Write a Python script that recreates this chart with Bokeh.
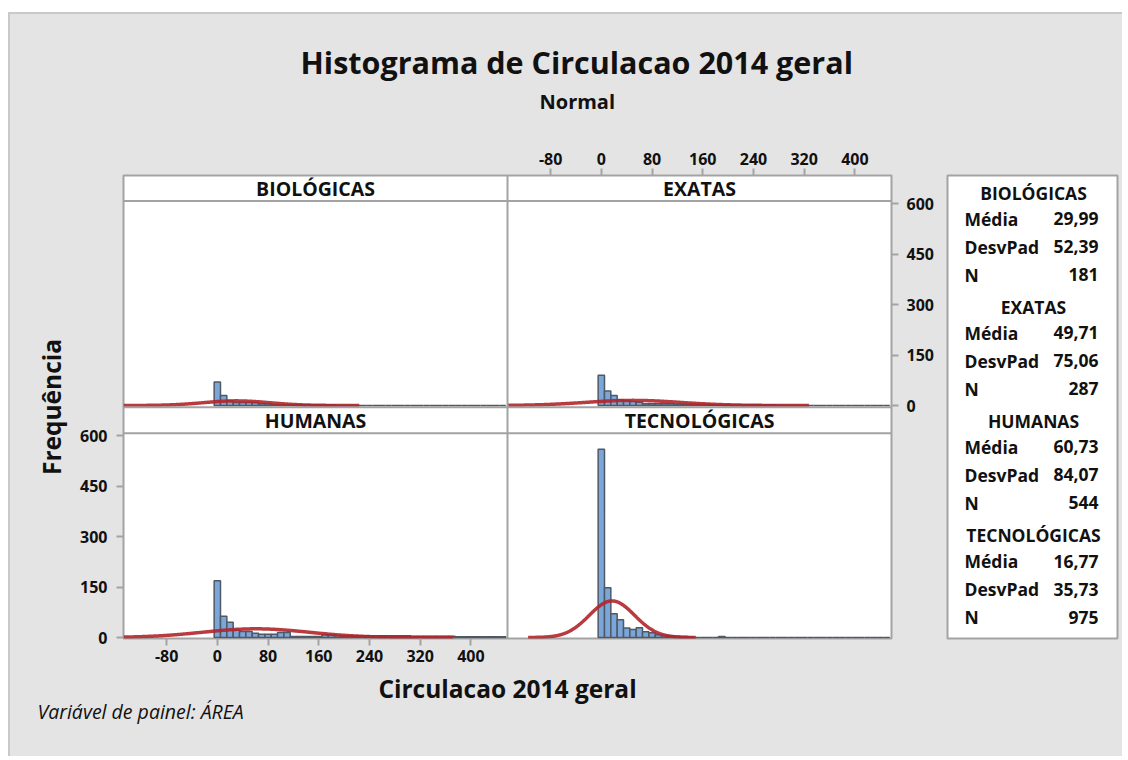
import numpy as np
from bokeh.plotting import figure
from bokeh.models import Range1d, LinearAxis, FixedTicker, Title, Span
from bokeh.layouts import row
from bokeh.core.properties import value
from bokeh.embed import file_html
from bokeh.resources import INLINE

# ---------------- data ----------------
PANELS = ["BIOLÓGICAS", "EXATAS", "HUMANAS", "TECNOLÓGICAS"]
MEDIA = [29.99, 49.71, 60.73, 16.77]
DESVPAD = [52.39, 75.06, 84.07, 35.73]
N_OBS = [181, 287, 544, 975]
BIN_WIDTH = 10
BIN_CENTERS = list(range(0, 460, BIN_WIDTH))

COUNTS_BIO = [70, 30, 15, 9, 9, 9, 9, 5, 5, 2, 2, 2, 2, 2, 2, 2, 2, 2, 2,
              0, 0, 0, 0, 0, 0, 0, 0, 0, 0, 0, 0, 0, 0, 0, 0, 0, 0, 0, 0, 0, 0, 0, 0, 0, 0, 0]
COUNTS_EXA = [90, 43, 30, 17, 15, 12, 10, 5, 5, 5, 5, 5, 4, 4, 4, 4, 4, 4,
              2, 2, 2, 2, 2, 2, 2, 2, 2, 2, 1,
              0, 0, 0, 0, 0, 0, 0, 0, 0, 0, 0, 0, 0, 0, 0, 0, 0]
COUNTS_HUM = [169, 63, 45, 22, 18, 18, 13, 10, 10, 10, 15, 15, 3, 3, 3, 3, 3, 8, 8,
              6, 5, 5, 5, 5, 5, 5, 5, 5, 5, 5, 5,
              4, 4, 4, 4, 4, 4, 4,
              2, 2, 2, 2, 2, 2, 2, 2]
COUNTS_TEC = [560, 148, 71, 53, 28, 24, 29, 17, 14, 8, 6, 5, 4, 3, 2, 0, 0, 0, 0, 3,
              0, 0, 0, 0, 0, 0, 0, 0, 0, 0, 0, 0, 0, 0, 0, 0, 0, 0, 0, 0, 0, 0, 0, 0, 0, 0]
COUNTS = [COUNTS_BIO, COUNTS_EXA, COUNTS_HUM, COUNTS_TEC]

X_TICKS = [-80, 0, 80, 160, 240, 320, 400]
X_TICK_LABELS = {t: str(t) for t in X_TICKS}
Y_TICKS = [0, 150, 300, 450, 600]

# ---------------- geometry ----------------
FONT = "Open Sans"
BG = "#e4e4e4"
LINE = "#a3a3a3"
TXT = "#111111"
FW, FH = 768, 463
PW = FW / 2
X0, X1 = -148.0, 457.7
PXU = PW / (X1 - X0)          # px per x unit
U = 2.975                      # y units per px

p = figure(frame_width=FW, frame_height=FH,
           min_border_left=113, min_border_right=50, min_border_top=161, min_border_bottom=118,
           x_range=Range1d(0, FW), y_range=Range1d(0, FH),
           x_axis_type=None, y_axis_type=None, title=None,
           toolbar_location=None, output_backend="svg")
p.background_fill_color = "white"
p.border_fill_color = BG
p.outline_line_color = LINE
p.outline_line_width = 2
p.grid.visible = False

p.extra_x_ranges = {
    "L": Range1d(X0, X0 + FW / PXU),
    "R": Range1d(X0 - PW / PXU, X1),
}
p.extra_y_ranges = {
    "B": Range1d(-1 * U, (FH - 1) * U),
    "T": Range1d(-233 * U, (FH - 233) * U),
}
PANEL_RANGES = [("L", "T"), ("R", "T"), ("L", "B"), ("R", "B")]

# panel dividers
for loc in [437.4, 231.3, 205.3]:
    p.add_layout(Span(location=loc, dimension="width", line_color=LINE, line_width=2))
p.add_layout(Span(location=PW, dimension="height", line_color=LINE, line_width=2))

# strip labels
p.text(x=[PW / 2, PW * 1.5, PW / 2, PW * 1.5], y=[450.2, 450.2, 218.3, 218.3], text=PANELS,
       text_align="center", text_baseline="middle", text_font=value(FONT),
       text_font_size="19.5px", text_font_style="bold", text_color=TXT)

edges = np.array(BIN_CENTERS, dtype=float)
for i, (xr, yr) in enumerate(PANEL_RANGES):
    p.quad(left=edges - BIN_WIDTH / 2, right=edges + BIN_WIDTH / 2, bottom=0, top=COUNTS[i],
           x_range_name=xr, y_range_name=yr,
           fill_color="#7ba6da", line_color="#4f5966", line_width=1.5)
    m, s, n = MEDIA[i], DESVPAD[i], N_OBS[i]
    lo, hi = max(m - 3.7 * s, X0), min(m + 3.7 * s, X1)
    xs = np.linspace(lo, hi, 400)
    ys = n * BIN_WIDTH * np.exp(-0.5 * ((xs - m) / s) ** 2) / (s * np.sqrt(2 * np.pi))
    p.line(xs, ys, x_range_name=xr, y_range_name=yr, line_color="#b0262b", line_width=3.5, line_alpha=0.9)


def style_axis(ax):
    ax.axis_line_color = None
    ax.major_tick_line_color = LINE
    ax.major_tick_line_width = 2
    ax.major_tick_out = 7
    ax.major_tick_in = 0
    ax.minor_tick_line_color = None
    ax.major_label_text_font = FONT
    ax.major_label_text_font_size = "16px"
    ax.major_label_text_font_style = "bold"
    ax.major_label_text_color = TXT
    ax.axis_label_text_font = FONT
    ax.axis_label_text_font_size = "24.5px"
    ax.axis_label_text_font_style = "bold"
    ax.axis_label_text_color = TXT


ax_b = LinearAxis(x_range_name="L", ticker=FixedTicker(ticks=X_TICKS), axis_label="Circulacao 2014 geral")
style_axis(ax_b)
ax_b.major_label_overrides = X_TICK_LABELS
ax_b.major_label_standoff = 4
ax_b.axis_label_standoff = 7
p.add_layout(ax_b, "below")

ax_t = LinearAxis(x_range_name="R", ticker=FixedTicker(ticks=X_TICKS))
style_axis(ax_t)
ax_t.major_label_overrides = X_TICK_LABELS
ax_t.major_label_standoff = 4
p.add_layout(ax_t, "above")

ax_l = LinearAxis(y_range_name="B", ticker=FixedTicker(ticks=Y_TICKS), axis_label="Frequência")
style_axis(ax_l)
ax_l.major_label_standoff = 9
ax_l.axis_label_standoff = 9
p.add_layout(ax_l, "left")

ax_r = LinearAxis(y_range_name="T", ticker=FixedTicker(ticks=Y_TICKS))
style_axis(ax_r)
ax_r.major_label_standoff = 8
p.add_layout(ax_r, "right")

# spacer between the top axis and the subtitle
p.add_layout(Title(text=" ", align="left", text_font=FONT, text_font_size="1px", standoff=28.6), "above")
p.add_layout(Title(text="Normal", align="left", offset=416, text_font=FONT,
                   text_font_size="20px", text_font_style="bold", text_color=TXT,
                   standoff=6), "above")
p.add_layout(Title(text="Histograma de Circulacao 2014 geral", align="left", offset=177,
                   text_font=FONT, text_font_size="30.5px", text_font_style="bold",
                   text_color=TXT, standoff=0), "above")
p.add_layout(Title(text="Variável de painel: ÁREA", align="left", offset=-86, text_font=FONT,
                   text_font_size="19.5px", text_font_style="italic", text_color=TXT,
                   standoff=-24), "below")

# ---------------- stats box ----------------
LW, LH = 170, 463
lg = figure(frame_width=LW, frame_height=LH,
            min_border_left=6, min_border_right=5, min_border_top=160, min_border_bottom=119,
            x_range=Range1d(0, LW), y_range=Range1d(0, LH),
            x_axis_type=None, y_axis_type=None, title=None,
            toolbar_location=None, output_backend="svg")
lg.background_fill_color = "white"
lg.border_fill_color = BG
lg.outline_line_color = LINE
lg.outline_line_width = 2
lg.grid.visible = False

hx, hy, ht = [], [], []
lx, ly, lt = [], [], []
vx, vy, vt = [], [], []
for g in range(4):
    top = 17 + 114.2 * g
    hx.append(86); hy.append(LH - top); ht.append(PANELS[g])
    vals = [f"{MEDIA[g]:.2f}".replace(".", ","), f"{DESVPAD[g]:.2f}".replace(".", ","), str(N_OBS[g])]
    for k, lab in enumerate(["Média", "DesvPad", "N"]):
        yy = LH - (top + 26 + 28 * k)
        lx.append(17); ly.append(yy); lt.append(lab)
        vx.append(151); vy.append(yy); vt.append(vals[k])

common = dict(text_baseline="middle", text_font=value(FONT), text_font_size="17.5px",
              text_font_style="bold", text_color=TXT)
lg.text(x=hx, y=hy, text=ht, text_align="center", **common)
lg.text(x=lx, y=ly, text=lt, text_align="left", **common)
lg.text(x=vx, y=vy, text=vt, text_align="right", **common)

layout = row(p, lg, margin=(12, 0, 0, 8),
             styles={"background-color": BG, "border-top": "2px solid #c9c9c9",
                     "border-left": "2px solid #c9c9c9"})
open("out.html", "w").write(file_html(layout, INLINE))
